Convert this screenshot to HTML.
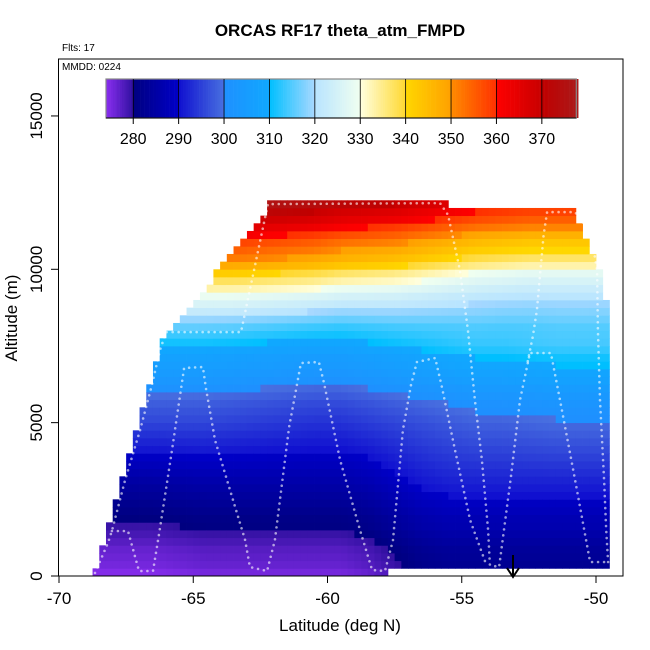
<!DOCTYPE html>
<html><head><meta charset="utf-8"><style>
html,body{margin:0;padding:0;background:#fff}
svg{display:block;font-family:"Liberation Sans",sans-serif}
</style></head><body>
<svg id="chart" width="650" height="650" viewBox="0 0 650 650">
<text x="340" y="36" text-anchor="middle" font-size="17" font-weight="bold">ORCAS RF17 theta_atm_FMPD</text>
<text x="62" y="51" font-size="10">Flts: 17</text>
<g id="cells"></g>
<g id="track"></g>
<rect x="58.5" y="59" width="564.5" height="517" fill="none" stroke="#000" stroke-width="1"/>
<text x="62" y="70" font-size="10">MMDD: 0224</text>
<g id="cbar"></g>
<g id="xaxis"></g>
<g id="yaxis"></g>
<text x="340" y="631" text-anchor="middle" font-size="17">Latitude (deg N)</text>
<text transform="translate(17,318) rotate(-90)" text-anchor="middle" font-size="17">Altitude (m)</text>
<g>
<line x1="513" y1="555" x2="513" y2="576" stroke="#000" stroke-width="2"/>
<polyline points="507,568 513,577 519,568" fill="none" stroke="#000" stroke-width="2"/>
</g>
</svg>
<script>
// ---- data ----
const xTicks = [-70, -65, -60, -55, -50];
const yTicks = [0, 5000, 10000, 15000];
const cbarTicks = [280, 290, 300, 310, 320, 330, 340, 350, 360, 370];
const colLat0 = -68.75;
const colWidthDeg = 0.25;
const rowHeightM = 250;
const colTop = [250,1000,1750,2500,3250,4000,4750,5500,6250,7000,7750,8000,8250,8500,8750,9000,9250,9500,10000,10250,10500,10750,11000,11250,11500,11750,
12250,12250,12250,12250,12250,12250,12250,12250,12250,12250,12250,12250,12250,12250,12250,12250,12250,12250,12250,12250,12250,12250,12250,12250,12250,12250,12250,
12000,12000,12000,12000,12000,12000,12000,12000,12000,12000,12000,12000,12000,12000,12000,12000,12000,12000,12000,
11500,11000,10500,10000,9000];
const colBottom = [0,0,0,0,0,0,0,0,0,0,0,0,0,0,0,0,0,0,0,0,0,0,0,0,0,0,0,0,0,0,0,0,0,0,0,0,0,0,0,0,0,0,0,0,
250,250,250,250,250,250,250,250,250,250,250,250,250,250,250,250,250,250,250,250,250,250,250,250,250,250,250,250,250,250,250,250,250];
const thetaProfile = [275.5,276.5,277,277.5,278.5,279.5,280.5,281,282,283,284,285,286,287,288,289,290,291,292,293,
294,295,296,297.5,299,301,302.5,304,305,307,309,311,313,316,319,322,325,329,333,337,
343,347,350,353,357,361,365,368,372,375];
const anomLow  = [-1,-1,-1,-0.5,0,0,0,0,0,0,1,3,5,6,6,6,6,6,6,6];
const anomMid  = [2,2,2,2,2,1.5,1,0.5,0,0,1,2,3,4,5,5,5.5,6,6,6];
const anomHigh = [5,5,5,5,5,5,4,3,2,0,-1,-2,-4,-6,-8,-9,-10,-10,-10,-10];
const track1Lat = [-68.66,-68.18,-68.03,-67.54,-66.98,-66.54,-66.24,-66.01,-63.22,-62.22,-55.81,-55.51,-55.07,-54.77,-54.51,-54.25,-54.02,-53.95,-53.61,-53.17,-52.83,-52.46,-51.68,-51.34,-50.78,-50.22,-49.55];
const track1Alt = [100,1076,1467,3130,4760,6227,7368,7954,7954,12127,12160,11770,9976,8020,5738,3782,1500,360,290,3227,5738,7270,7270,5738,3130,456,456];
const track2Lat = [-68.03,-67.43,-67.02,-66.50,-66.28,-66.05,-65.79,-65.57,-65.34,-64.64,-64.53,-64.19,-63.63,-63.07,-62.89,-62.25,-61.96,-61.43,-61.14,-60.99,-60.32,-60.13,-59.53,-58.79,-58.34,-57.86,-57.56,-57.19,-56.89,-56.67,-55.99,-55.74,-55.25,-54.69,-54.1];
const track2Alt = [1467,1467,163,163,1337,2640,4108,5412,6781,6813,6129,4434,2804,1174,293,163,1174,4857,6227,6944,6976,6292,3782,1500,196,163,1174,4760,6227,6976,7107,6161,4108,1826,400];
const track3Lat = [-49.55,-49.62,-49.70,-49.85,-49.93,-49.96,-50.15,-50.41,-50.78,-51.82,-51.95,-52.2,-52.35,-52.57];
const track3Alt = [456,1500,3130,5738,8020,9976,10954,11443,11866,11866,11117,8670,7824,6879];
const cbarMin = 274, cbarMax = 377.6;

// ---- scales ----
const X = lat => 59 + (lat + 70) * 26.85;
const Y = alt => 576 - alt * 0.03067;
const CX = v => 106 + (v - cbarMin) * 4.54;
const NS = 'http://www.w3.org/2000/svg';
function mk(tag, attrs, parent){const e=document.createElementNS(NS,tag);for(const k in attrs)e.setAttribute(k,attrs[k]);parent.appendChild(e);return e;}

const segs = [[274,280,'#8a2ef0','#3010a0'],[280,290,'#000080','#0000c8'],[290,300,'#1010d0','#4870e0'],
[300,310,'#1e90ff','#10a8ff'],[310,320,'#00bfff','#a8d8ff'],[320,330,'#b8e4ff','#f0fff0'],
[330,340,'#ffffe0','#ffd830'],[340,350,'#ffd700','#ffa000'],[350,360,'#ff8c00','#ff3000'],
[360,370,'#ff0000','#c80000'],[370,380,'#c00000','#a52020']];
function hex(h){return [1,3,5].map(i=>parseInt(h.substr(i,2),16));}
function color(v){
  v=Math.max(274,Math.min(379.9,v));
  for(const s of segs){ if(v>=s[0]&&v<s[1]){const t=(v-s[0])/(s[1]-s[0]);const a=hex(s[2]),b=hex(s[3]);
    return 'rgb('+a.map((x,i)=>Math.round(x+(b[i]-x)*t)).join(',')+')';}}
  return '#a52020';
}
function anomAt(arr, lat){
  const f = lat + 68.5;
  const i = Math.max(0, Math.min(18, Math.floor(f)));
  const t = Math.max(0, Math.min(1, f - i));
  return arr[i]*(1-t) + arr[i+1]*t;
}
function theta(c,j){
  const lat = colLat0 + (c+0.5)*colWidthDeg;
  const z = (j+0.5)*rowHeightM;
  const lo=anomAt(anomLow,lat), mi=anomAt(anomMid,lat), hi=anomAt(anomHigh,lat);
  let a;
  if(z<3000) a=lo;
  else if(z<5000){const w=(z-3000)/2000;a=lo*(1-w)+mi*w;}
  else if(z<7500) a=mi;
  else if(z<10000){const w=(z-7500)/2500;a=mi*(1-w)+hi*w;}
  else a=hi;
  return thetaProfile[Math.min(j,thetaProfile.length-1)] + a;
}

// ---- heatmap ----
const cells=document.getElementById('cells');
for(let c=0;c<colTop.length;c++){
  const l0=colLat0+c*colWidthDeg, x0=X(l0), x1=X(l0+colWidthDeg);
  for(let j=colBottom[c]/rowHeightM;j<colTop[c]/rowHeightM;j++){
    const r=mk('rect',{x:x0.toFixed(2),y:Y((j+1)*rowHeightM).toFixed(2),width:(x1-x0+0.4).toFixed(2),height:(rowHeightM*0.03067+0.4).toFixed(2),fill:color(theta(c,j))},cells);
    
    
  }
}

// ---- track ----
const trk=document.getElementById('track');
[[track1Lat,track1Alt],[track2Lat,track2Alt],[track3Lat,track3Alt]].forEach(p=>{
  const pts=p[0].map((la,i)=>X(la).toFixed(1)+','+Y(p[1][i]).toFixed(1)).join(' ');
  const pl=mk('polyline',{points:pts,fill:'none',stroke:'#ffffff','stroke-width':2.6,'stroke-dasharray':'0 6','stroke-linecap':'round',opacity:0.6},trk);
  
  
});

// ---- colorbar ----
const cb=document.getElementById('cbar');
for(let v=cbarMin; v<cbarMax; v+=0.5){
  const r=mk('rect',{x:CX(v).toFixed(2),y:79,width:(0.5*4.54+0.3).toFixed(2),height:39,fill:color(v+0.25)},cb);
  
  
}
mk('rect',{x:106,y:79,width:(CX(cbarMax)-106).toFixed(1),height:39,fill:'none',stroke:'#888','stroke-width':1.2},cb);
cbarTicks.forEach(v=>{
  const x=CX(v);
  mk('line',{x1:x,y1:79,x2:x,y2:118,stroke:'#000','stroke-width':0.8},cb);
  mk('line',{x1:x,y1:118,x2:x,y2:124,stroke:'#000','stroke-width':1},cb);
  const t=mk('text',{x:x,y:144,'text-anchor':'middle','font-size':16},cb);
  t.textContent=v;
  
  
});
mk('line',{x1:106,y1:118,x2:CX(cbarMax),y2:118,stroke:'#000','stroke-width':1},cb);

// ---- axes ----
const xa=document.getElementById('xaxis');
mk('line',{x1:X(-70),y1:576,x2:X(-50),y2:576,stroke:'#000'},xa);
xTicks.forEach(v=>{
  const x=X(v);
  mk('line',{x1:x,y1:576,x2:x,y2:583,stroke:'#000'},xa);
  const t=mk('text',{x:x,y:604,'text-anchor':'middle','font-size':17},xa);
  t.textContent=v;
  
  
});
const ya=document.getElementById('yaxis');
mk('line',{x1:58.5,y1:Y(0),x2:58.5,y2:Y(15000),stroke:'#000'},ya);
yTicks.forEach(v=>{
  const y=Y(v);
  mk('line',{x1:51,y1:y,x2:58.5,y2:y,stroke:'#000'},ya);
  const t=mk('text',{transform:'translate(42,'+y.toFixed(1)+') rotate(-90)','text-anchor':'middle','font-size':17},ya);
  t.textContent=v;
  
  
});
</script>
</body></html>
